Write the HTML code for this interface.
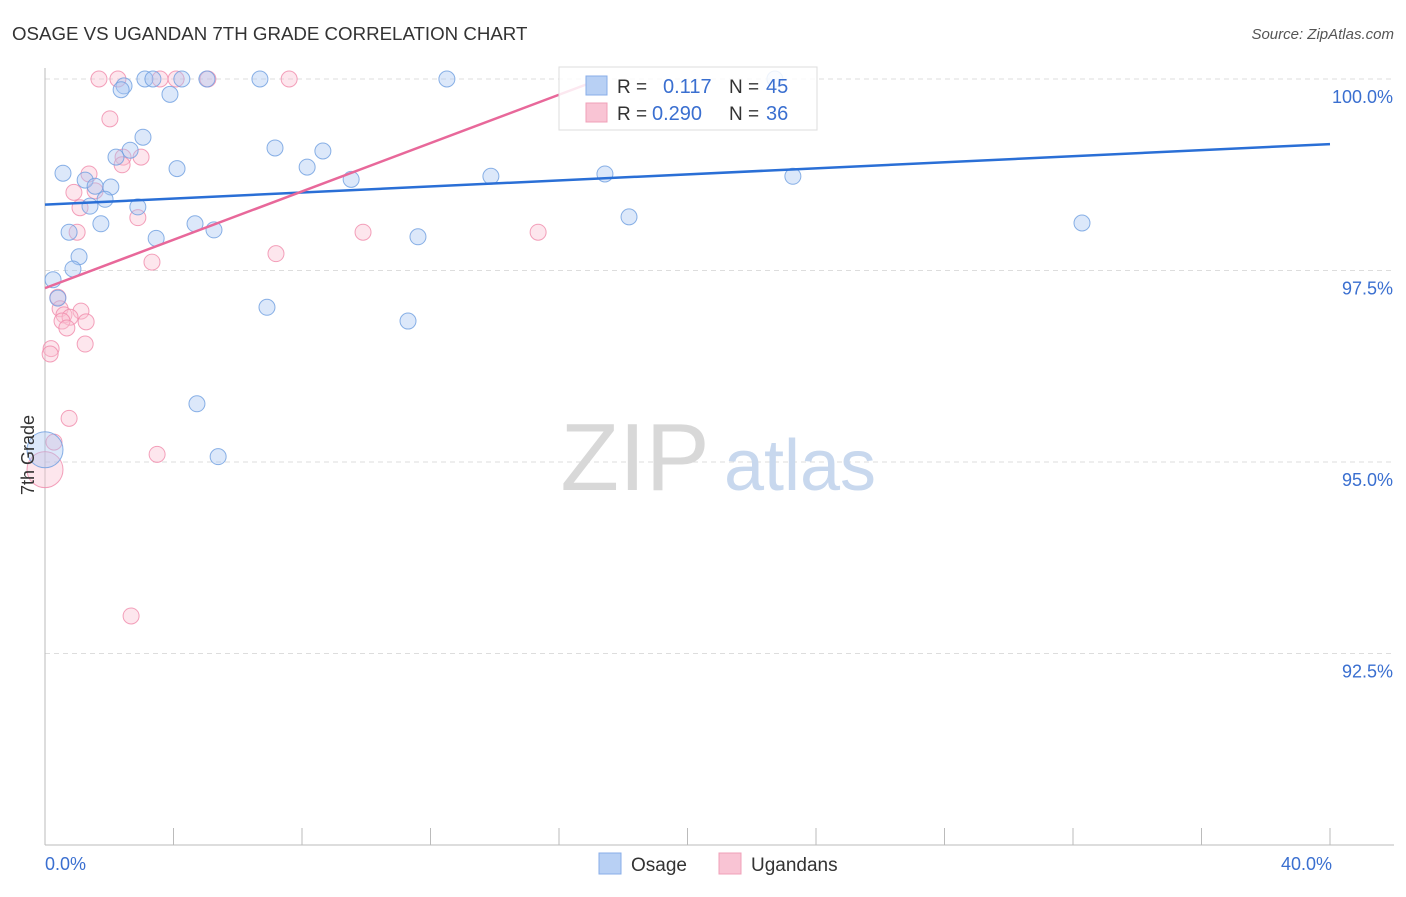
<!DOCTYPE html>
<html><head><meta charset="utf-8"><style>
body{margin:0;background:#fff;font-family:"Liberation Sans",sans-serif;}
svg text{font-family:"Liberation Sans",sans-serif;}
</style></head><body>
<svg id="chart" width="1406" height="892" xmlns="http://www.w3.org/2000/svg">
<text x="12" y="40" font-size="18.7" fill="#333">OSAGE VS UGANDAN 7TH GRADE CORRELATION CHART</text>
<text x="1394" y="39" font-size="15" fill="#555" font-style="italic" text-anchor="end">Source: ZipAtlas.com</text>
<g id="grid"></g>
<g><text x="635" y="490" font-size="96" fill="#d8d8d8" font-family="Liberation Serif,serif" text-anchor="middle">ZIP</text><text x="800" y="490" font-size="72" fill="#c8d8ee" text-anchor="middle">atlas</text></g>
<g id="points"></g>
<g id="lines"></g>
<text transform="translate(34,455) rotate(-90)" font-size="18" fill="#333" text-anchor="middle">7th Grade</text>
<g>
<rect x="559" y="67" width="258" height="63" fill="#fff" fill-opacity="0.85" stroke="#ddd"/>
<rect x="586" y="76" width="21" height="19" fill="#b8d0f4" stroke="#88aee8"/>
<rect x="586" y="103" width="21" height="19" fill="#f9c4d4" stroke="#f0a0b8"/>
<text x="617" y="93" font-size="19" fill="#333">R =</text><text x="663" y="93" font-size="20" fill="#3a6fd0">0.117</text>
<text x="729" y="93" font-size="19" fill="#333">N =</text><text x="766" y="93" font-size="20" fill="#3a6fd0">45</text>
<text x="617" y="120" font-size="19" fill="#333">R =</text><text x="652" y="120" font-size="20" fill="#3a6fd0">0.290</text>
<text x="729" y="120" font-size="19" fill="#333">N =</text><text x="766" y="120" font-size="20" fill="#3a6fd0">36</text>
</g>
<g>
<rect x="599" y="853" width="22" height="21" fill="#b8d0f4" stroke="#88aee8"/>
<text x="631" y="871" font-size="19" fill="#333">Osage</text>
<rect x="719" y="853" width="22" height="21" fill="#f9c4d4" stroke="#f0a0b8"/>
<text x="751" y="871" font-size="19" fill="#333">Ugandans</text>
</g>
</svg>
<script>
const xTicks=[0,5,10,15,20,25,30,35,40];
const yTicks=[92.5,95,97.5,100];
const osageX=[3.11,3.36,4.26,5.04,6.69,12.51,22.72,2.46,2.37,3.89,3.05,7.16,8.65,2.65,2.21,4.11,8.16,0.56,1.25,9.53,13.88,17.43,23.28,1.56,2.05,1.87,1.40,2.89,18.18,4.67,1.74,32.28,0.75,5.26,3.46,11.61,1.06,0.87,0.25,0.40,6.91,11.30,4.73,5.39,0.0];
const osageY=[100,100,100,100,100,100,100,99.91,99.86,99.80,99.24,99.10,99.06,99.07,98.98,98.83,98.85,98.77,98.68,98.69,98.73,98.76,98.73,98.60,98.59,98.43,98.34,98.33,98.20,98.11,98.11,98.12,98.00,98.03,97.92,97.94,97.68,97.52,97.38,97.14,97.02,96.84,95.76,95.07,95.16];
const ugX=[1.68,2.27,3.58,4.08,5.07,7.60,2.02,2.43,2.99,1.37,2.40,0.90,1.09,2.89,1.00,9.90,15.35,3.33,7.19,0.40,0.47,1.12,0.59,0.78,0.53,1.28,0.68,1.25,0.19,0.16,0.75,0.28,3.49,0.0,2.68,1.56];
const ugY=[100,100,100,100,100,100,99.48,98.98,98.98,98.76,98.88,98.52,98.32,98.19,98.00,98.00,98.00,97.61,97.72,97.15,97.00,96.97,96.92,96.89,96.84,96.83,96.75,96.54,96.48,96.41,95.57,95.26,95.10,94.90,92.99,98.54];
const osageLine=[98.36,99.15];
const ugLine=[97.27,100.0,17.3];
const NS="http://www.w3.org/2000/svg";
const X=v=>45+v*32.125, Y=v=>79+(100-v)*76.6;
function mk(t,a,p){const e=document.createElementNS(NS,t);for(const k in a)e.setAttribute(k,a[k]);p.appendChild(e);return e;}
const grid=document.getElementById('grid');
yTicks.forEach(t=>{
 const l=mk('line',{x1:45,x2:1394,y1:Y(t),y2:Y(t),stroke:'#ddd','stroke-dasharray':'5,4'},grid);
 
 
 const tx=mk('text',{x:1393,y:Y(t)+24,'font-size':18,fill:'#3a6fd0','text-anchor':'end'},grid);
 tx.textContent=t.toFixed(1)+'%';
 
 
});
mk('line',{x1:45,x2:45,y1:68,y2:845,stroke:'#bbb'},grid);
mk('line',{x1:45,x2:1394,y1:845,y2:845,stroke:'#bbb'},grid);
for(let i=0;i<=10;i++){const t=mk('line',{x1:X(i*4),x2:X(i*4),y1:828,y2:845,stroke:'#bbb'},grid);
 
 }
[[0,'start'],[40,'end']].forEach(([v,a])=>{const t=mk('text',{x:X(v)+(v?2:0),y:870,'font-size':18,fill:'#3a6fd0','text-anchor':a},grid);t.textContent=v.toFixed(1)+'%';
 
 });
const pts=document.getElementById('points');
function draw(xs,ys,fill,stroke,name){xs.forEach((x,i)=>{const big=(x===0&&i===xs.length-1)||(x===0&&name==='ugandans-point');
 const c=mk('circle',{cx:X(x),cy:Y(ys[i]),r:big?18:8,fill:fill,'fill-opacity':0.4,stroke:stroke,'stroke-opacity':0.8},pts);
 
 });}
draw(ugX,ugY,'#f9c0d2','#f08aaa','ugandans-point');
draw(osageX,osageY,'#a8c6f2','#6d9de0','osage-point');
const ln=document.getElementById('lines');
const b=mk('line',{x1:X(0),y1:Y(osageLine[0]),x2:X(40),y2:Y(osageLine[1]),stroke:'#2a6fd6','stroke-width':2.5},ln);


const p=mk('line',{x1:X(0),y1:Y(ugLine[0]),x2:X(ugLine[2]),y2:Y(ugLine[1]),stroke:'#e8689a','stroke-width':2.5},ln);


</script>
</body></html>
